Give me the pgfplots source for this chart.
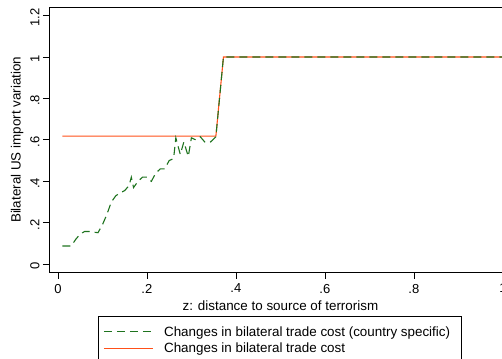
\documentclass[border=0pt]{standalone}
\usepackage{fontspec}
\setmainfont{Liberation Sans}
\usepackage{pgfplots}
\pgfplotsset{compat=1.18}
\definecolor{dkg}{RGB}{30,115,30}
\definecolor{org}{RGB}{255,80,25}
\begin{document}
\begin{tikzpicture}
\begin{axis}[
  at={(0,0)}, anchor=south west,
  scale only axis, width=462.8pt, height=265.2pt,
  xmin=-0.02, xmax=1.02, ymin=-0.04, ymax=1.24,
  axis line style={line width=0.9pt},
  /pgf/number format/assume math mode=true,
  xtick={0,0.2,0.4,0.6,0.8,1}, xticklabels={0,.2,.4,.6,.8,1},
  ytick={0,0.2,0.4,0.6,0.8,1,1.2}, yticklabels={0,.2,.4,.6,.8,1,1.2},
  tick align=outside, tick pos=left, major tick length=6pt,
  every tick/.style={black, line width=0.8pt},
  ticklabel style={font=\fontsize{13}{15}\selectfont},
  xticklabel style={yshift=-2pt},
  yticklabel style={rotate=90, anchor=south, xshift=-2pt},
  label style={font=\fontsize{13.4}{15}\selectfont},
  xlabel={z: distance to source of terrorism},
  xlabel style={yshift=-1pt},
  ylabel={Bilateral US import variation},
  reverse legend,
  legend style={at={(0.1059,-0.164)}, anchor=north west, draw=black, line width=0.6pt,
    font=\fontsize{13.4}{15}\selectfont, cells={anchor=west}, row sep=1pt,
    inner xsep=5pt, inner ysep=8pt, nodes={inner sep=2pt}, column sep=8.7pt},
  legend image code/.code={\draw[#1] (0pt,0pt) -- (49pt,0pt);},
]
\addplot[org, line width=1.1pt] coordinates {
(0.01,0.618) (0.355,0.618) (0.372,1.0) (1.02,1.0)
};
\addlegendentry{Changes in bilateral trade cost}
\addplot[dkg, line width=1.1pt, dash pattern=on 8pt off 5pt] coordinates {
(0.01,0.088) (0.02,0.088) (0.03,0.088) (0.04,0.12) (0.05,0.145) (0.06,0.158)
(0.07,0.158) (0.08,0.155) (0.09,0.152) (0.10,0.19) (0.11,0.24) (0.12,0.30)
(0.13,0.33) (0.14,0.345) (0.15,0.355) (0.16,0.38) (0.165,0.42) (0.17,0.37)
(0.18,0.40) (0.19,0.42) (0.20,0.42) (0.21,0.40) (0.22,0.44) (0.23,0.46)
(0.24,0.46) (0.25,0.50) (0.26,0.51) (0.265,0.61) (0.275,0.53) (0.283,0.59)
(0.293,0.52) (0.30,0.61) (0.31,0.60) (0.32,0.615) (0.33,0.59) (0.342,0.588)
(0.355,0.615) (0.372,1.0) (1.02,1.0)
};
\addlegendentry{Changes in bilateral trade cost (country specific)\hspace*{4pt}}
\end{axis}
\pgfresetboundingbox
\path (-49pt,-85.5pt) rectangle (453pt,272.5pt);
\end{tikzpicture}
\end{document}
